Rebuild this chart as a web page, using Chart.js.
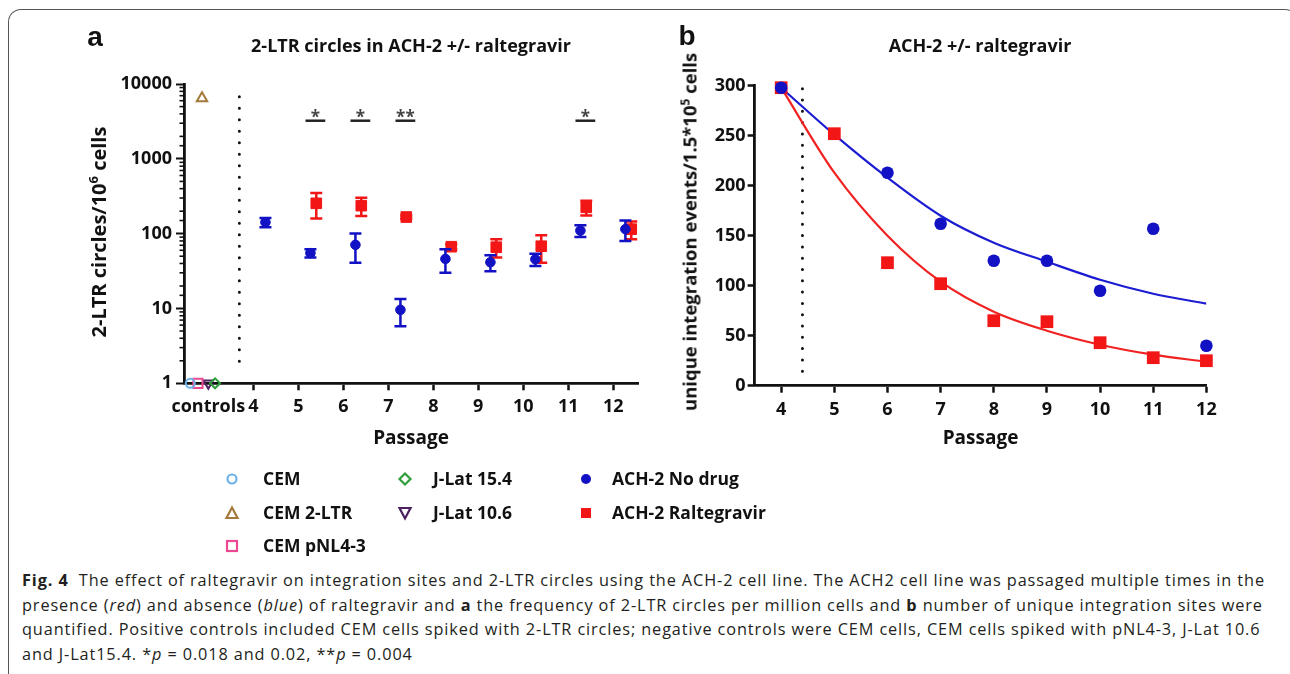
<!DOCTYPE html>
<html>
<head>
<meta charset="utf-8">
<script src="https://cdn.jsdelivr.net/npm/chart.js@4.4.1/dist/chart.umd.min.js"></script>
<style>
  html, body { margin: 0; padding: 0; background: #fff; }
  body { width: 1290px; height: 674px; position: relative; overflow: hidden; font-family: "Open Sans", Lato, sans-serif; color: #111; }
  #frame { position: absolute; left: 8px; top: 9px; width: 1290px; height: 720px; box-sizing: border-box;
           border-top: 1.5px solid #555; border-left: 1.5px solid #555; border-right: 1.5px solid #555; border-radius: 13px 13px 0 0; }
  canvas { position: absolute; top: 0; }
  #ca { left: 0; }
  #cb { left: 660px; }
  .lbl { position: absolute; font-family: "Liberation Sans", Arial, sans-serif; font-weight: bold; font-size: 28px; line-height: 1; transform: translate(-50%, -50%); }
  .ttl { position: absolute; font-weight: bold; font-size: 18px; white-space: nowrap; transform: translate(-50%, -50%); }
  .yt { position: absolute; font-weight: bold; font-size: 20px; white-space: nowrap; transform: translate(-50%, -50%) rotate(-90deg); }
  .yt sup { font-size: 13px; vertical-align: 8px; line-height: 0; }
  .yt.b { font-size: 18.5px; }
  .yt.b sup { font-size: 12px; vertical-align: 7px; }
  .leg { position: absolute; font-weight: bold; font-size: 17.5px; white-space: nowrap; transform: translateY(-50%); }
  .mk { position: absolute; width: 16px; height: 16px; transform: translate(-50%, -50%); }
  #cap { position: absolute; left: 22px; top: 568px; font-family: "Open Sans", sans-serif; font-size: 16.3px; line-height: 24.5px; color: #231f20; white-space: nowrap; }
  #cap div { white-space: nowrap; }
</style>
</head>
<body>
<div id="frame"></div>
<canvas id="ca" width="660" height="480" style="width:660px;height:480px"></canvas>
<canvas id="cb" width="630" height="480" style="width:630px;height:480px"></canvas>

<div class="lbl" style="left:95px;top:37px">a</div>
<div class="lbl" style="left:687px;top:36px">b</div>
<div class="ttl" style="left:411px;top:45px">2-LTR circles in ACH-2 +/- raltegravir</div>
<div class="ttl" style="left:980px;top:45px">ACH-2 +/- raltegravir</div>
<div class="yt" style="left:98px;top:232px">2-LTR circles/10<sup>6</sup> cells</div>
<div class="yt b" style="left:689px;top:232px">unique integration events/1.5*10<sup>5</sup> cells</div>

<div id="legend"></div>

<div id="cap">
  <div class="cl"><b>Fig. 4</b>&nbsp; The effect of raltegravir on integration sites and 2-LTR circles using the ACH-2 cell line. The ACH2 cell line was passaged multiple times in the</div>
  <div class="cl">presence (<i>red</i>) and absence (<i>blue</i>) of raltegravir and <b>a</b> the frequency of 2-LTR circles per million cells and <b>b</b> number of unique integration sites were</div>
  <div class="cl">quantified. Positive controls included CEM cells spiked with 2-LTR circles; negative controls were CEM cells, CEM cells spiked with pNL4-3, J-Lat 10.6</div>
  <div class="cl">and J-Lat15.4. *<i>p</i> = 0.018 and 0.02, **<i>p</i> = 0.004</div>
</div>

<script>
// ================= DATA =================
const passages = [4, 5, 6, 7, 8, 9, 10, 11, 12];
const xTickValuesA = [3, 4, 5, 6, 7, 8, 9, 10, 11, 12];
const xTickLabelsA = ['controls', '4', '5', '6', '7', '8', '9', '10', '11', '12'];
const yTickLabelsA = [1, 10, 100, 1000, 10000];
const yTickValuesB = [0, 50, 100, 150, 200, 250, 300];

// panel a: controls
const controlNames = ['CEM', 'CEM 2-LTR', 'CEM pNL4-3', 'J-Lat 15.4', 'J-Lat 10.6'];
const controlValues = [1, 6450, 1, 1, 1];

// panel a: 2-LTR circles / 10^6 cells (mean, SEM)
const seriesNames = ['ACH-2 No drug', 'ACH-2 Raltegravir'];
const circlesNoDrug = [142, 55, 71, 9.6, 46, 41.5, 45.5, 110, 115];
const circlesNoDrugSem = [20, 7, 30, 3.8, 16, 10, 8.5, 20, 35];
const ralPassages = [5, 6, 7, 8, 9, 10, 11, 12];
const circlesRal = [255, 237, 167, 67, 66, 68, 225, 115];
const circlesRalSem = [95, 65, 8, 5, 18, 27, 50, 31];

// significance marks
const sigPassages = [5, 6, 7, 11];
const sigLabels = ['*', '*', '**', '*'];
const sigLevel = 3240;

// panel b: unique integration events / 1.5*10^5 cells
const sitesNoDrug = [298, null, 213, 162, 125, 125, 95, 157, 40];
const sitesRal = [298, 252, 123, 102, 65, 64, 43, 28, 25];
// fitted decay curves
const fitNoDrug = [298, 251, 208, 170, 143, 124, 106, 92, 82];
const fitRal = [298, 213, 150, 104, 74, 55, 41, 31, 24];

// ================= STYLE =================
const FONT = '"Open Sans", Lato, sans-serif';
const BLUE = '#1212c4';
const RED = '#f21616';
const controlStyles = [
  { color: '#6cb2ea', style: 'circle', r: 4.5, rot: 0, dx: -0.40 },
  { color: '#a47a3a', style: 'triangle', r: 6, rot: 0, dx: -0.14 },
  { color: '#ee4a94', style: 'rect', r: 6.5, rot: 0, dx: -0.23 },
  { color: '#2e9e3a', style: 'rectRot', r: 5, rot: 0, dx: 0.15 },
  { color: '#4a2060', style: 'triangle', r: 5.5, rot: 180, dx: 0.0 }
];
const OFF_BLUE = 0.27, OFF_RED = 0.40;

const isDecade = v => Math.abs(Math.log10(v) - Math.round(Math.log10(v))) < 1e-9;

// ---- plugins ----
const errorBars = {
  id: 'errorBars',
  beforeDatasetDraw(chart, args) {
    const ds = chart.data.datasets[args.index];
    if (!ds.errorValues) return;
    const y = chart.scales.y, ctx = chart.ctx;
    ctx.save();
    ctx.strokeStyle = ds.borderColor; ctx.lineWidth = 2.5;
    args.meta.data.forEach((pt, i) => {
      const raw = ds.data[i]; const e = ds.errorValues[i];
      if (!raw || !e) return;
      const yt = y.getPixelForValue(raw.y + e), yb = y.getPixelForValue(Math.max(raw.y - e, 1e-3));
      ctx.beginPath();
      ctx.moveTo(pt.x, yt); ctx.lineTo(pt.x, yb);
      ctx.moveTo(pt.x - 6, yt); ctx.lineTo(pt.x + 6, yt);
      ctx.moveTo(pt.x - 6, yb); ctx.lineTo(pt.x + 6, yb);
      ctx.stroke();
    });
    ctx.restore();
  }
};

const minorTicks = {
  id: 'minorTicks',
  afterDraw(chart) {
    const s = chart.scales.y, ctx = chart.ctx;
    ctx.save(); ctx.strokeStyle = '#111'; ctx.lineWidth = 1.6;
    s.ticks.forEach(t => {
      if (isDecade(t.value)) return;
      const yy = s.getPixelForValue(t.value);
      ctx.beginPath(); ctx.moveTo(s.right - 4.5, yy); ctx.lineTo(s.right, yy); ctx.stroke();
    });
    ctx.restore();
  }
};

const sigMarks = {
  id: 'sigMarks',
  afterDatasetsDraw(chart) {
    const x = chart.scales.x, y = chart.scales.y, ctx = chart.ctx;
    ctx.save();
    ctx.strokeStyle = '#222'; ctx.fillStyle = '#444'; ctx.lineWidth = 2.5;
    ctx.font = 'bold 17px ' + FONT; ctx.textAlign = 'center'; ctx.textBaseline = 'alphabetic';
    const yy = y.getPixelForValue(sigLevel);
    sigPassages.forEach((p, i) => {
      const x0 = x.getPixelForValue(p + 0.16), x1 = x.getPixelForValue(p + 0.60);
      ctx.beginPath(); ctx.moveTo(x0, yy); ctx.lineTo(x1, yy); ctx.stroke();
      ctx.fillText(sigLabels[i], (x0 + x1) / 2, yy + 2);
    });
    ctx.restore();
  }
};

const tickFont = { family: FONT, size: 18, weight: 'bold' };
const axisTitle = (text) => ({ display: true, text, color: '#111', font: { family: FONT, size: 19, weight: 'bold' }, padding: { top: 0, bottom: 30.5 } });

// ================= PANEL A =================
const dsA = [];
dsA.push({
  label: seriesNames[0],
  data: passages.map((p, i) => ({ x: p + OFF_BLUE, y: circlesNoDrug[i] })),
  errorValues: circlesNoDrugSem,
  pointStyle: 'circle', pointRadius: 4.8, backgroundColor: BLUE, borderColor: BLUE, borderWidth: 1, clip: false
});
dsA.push({
  label: seriesNames[1],
  data: ralPassages.map((p, i) => ({ x: p + OFF_RED, y: circlesRal[i] })),
  errorValues: circlesRalSem,
  pointStyle: 'rect', pointRadius: 7.5, backgroundColor: RED, borderColor: RED, borderWidth: 1, clip: false
});
controlNames.forEach((name, i) => {
  const st = controlStyles[i];
  dsA.push({
    label: name, data: [{ x: 3 + st.dx, y: controlValues[i] }],
    pointStyle: st.style, pointRadius: st.r, rotation: st.rot,
    backgroundColor: 'rgba(255,255,255,0)', borderColor: st.color, borderWidth: 2, clip: false
  });
});
dsA.push({
  label: 'divider', data: [{ x: 3.69, y: 6800 }, { x: 3.69, y: 1.39 }],
  showLine: true, pointRadius: 0, borderColor: '#111', borderWidth: 3, borderDash: [0, 11.5], borderCapStyle: 'round'
});

new Chart(document.getElementById('ca'), {
  type: 'scatter',
  data: { datasets: dsA },
  options: {
    responsive: false, animation: false, devicePixelRatio: 1,
    layout: { padding: { left: 0, right: 22, top: 84.1, bottom: 0 } },
    plugins: { legend: { display: false }, tooltip: { enabled: false }, title: { display: false } },
    scales: {
      x: {
        type: 'linear', min: 2.46, max: 12.55,
        afterBuildTicks: s => { s.ticks = xTickValuesA.map(v => ({ value: v })); },
        afterFit: s => { s.height = 96.7; },
        ticks: { autoSkip: false, maxRotation: 0, padding: 6, color: '#111', font: tickFont,
                 callback: v => xTickLabelsA[xTickValuesA.indexOf(v)] },
        grid: { drawOnChartArea: false, tickLength: 7, tickWidth: 2.5,
                tickColor: c => (c.tick && c.tick.value === 3) ? 'rgba(0,0,0,0)' : '#111' },
        border: { display: true, color: '#111', width: 2.8 },
        title: axisTitle('Passage')
      },
      y: {
        type: 'logarithmic', min: 1, max: 10000,
        afterFit: s => { s.width = 184; },
        ticks: { autoSkip: false, padding: 4, color: '#111', font: tickFont,
                 callback: v => yTickLabelsA.includes(v) ? String(v) : '' },
        grid: { drawOnChartArea: false, tickLength: 8, tickWidth: 2,
                tickColor: c => (c.tick && isDecade(c.tick.value)) ? '#111' : 'rgba(0,0,0,0)' },
        border: { display: true, color: '#111', width: 2.8 }
      }
    }
  },
  plugins: [errorBars, minorTicks, sigMarks]
});

// ================= PANEL B =================
const dsB = [];
dsB.push({
  label: seriesNames[0],
  data: passages.map((p, i) => ({ x: p, y: sitesNoDrug[i] })).filter(d => d.y !== null),
  pointStyle: 'circle', pointRadius: 6.3, backgroundColor: BLUE, borderColor: BLUE, borderWidth: 0, clip: false
});
dsB.push({
  label: seriesNames[1],
  data: passages.map((p, i) => ({ x: p, y: sitesRal[i] })),
  pointStyle: 'rect', pointRadius: 9, backgroundColor: RED, borderColor: RED, borderWidth: 0, clip: false
});
dsB.push({
  label: 'fit no drug', data: passages.map((p, i) => ({ x: p, y: fitNoDrug[i] })),
  showLine: true, pointRadius: 0, borderColor: '#1c1cd2', borderWidth: 2.2, cubicInterpolationMode: 'monotone'
});
dsB.push({
  label: 'fit raltegravir', data: passages.map((p, i) => ({ x: p, y: fitRal[i] })),
  showLine: true, pointRadius: 0, borderColor: '#f02222', borderWidth: 2.2, cubicInterpolationMode: 'monotone'
});
dsB.push({
  label: 'divider', data: [{ x: 4.4, y: 297 }, { x: 4.4, y: 12 }],
  showLine: true, pointRadius: 0, borderColor: '#111', borderWidth: 3, borderDash: [0, 11.3], borderCapStyle: 'round'
});

new Chart(document.getElementById('cb'), {
  type: 'scatter',
  data: { datasets: dsB },
  options: {
    responsive: false, animation: false, devicePixelRatio: 1,
    layout: { padding: { left: 0, right: 83.6, top: 85.7, bottom: 0 } },
    plugins: { legend: { display: false }, tooltip: { enabled: false }, title: { display: false } },
    scales: {
      x: {
        type: 'linear', min: 3.5, max: 12,
        afterBuildTicks: s => { s.ticks = passages.map(v => ({ value: v })); },
        afterFit: s => { s.height = 94.3; },
        ticks: { autoSkip: false, maxRotation: 0, padding: 6, color: '#111', font: tickFont },
        grid: { drawOnChartArea: false, tickLength: 7, tickWidth: 2.5, tickColor: '#111' },
        border: { display: true, color: '#111', width: 2.8 },
        title: axisTitle('Passage')
      },
      y: {
        type: 'linear', min: 0, max: 300,
        afterBuildTicks: s => { s.ticks = yTickValuesB.map(v => ({ value: v })); },
        afterFit: s => { s.width = 94.6; },
        ticks: { autoSkip: false, padding: 2, color: '#111', font: tickFont },
        grid: { drawOnChartArea: false, tickLength: 7, tickWidth: 2.5, tickColor: '#111' },
        border: { display: true, color: '#111', width: 2.8 }
      }
    }
  }
});

// ================= LEGEND (HTML) =================
const legendItems = [
  { name: controlNames[0], col: 0, row: 0, svg: '<circle cx="8" cy="8" r="4.5" fill="none" stroke="#6cb2ea" stroke-width="2.2"/>' },
  { name: controlNames[1], col: 0, row: 1, svg: '<polygon points="8,2.5 13.5,13 2.5,13" fill="none" stroke="#a47a3a" stroke-width="2.2"/>' },
  { name: controlNames[2], col: 0, row: 2, svg: '<rect x="3" y="3" width="10" height="10" fill="none" stroke="#ee4a94" stroke-width="2.2"/>' },
  { name: controlNames[3], col: 1, row: 0, svg: '<polygon points="8,2.5 13.5,8 8,13.5 2.5,8" fill="none" stroke="#2e9e3a" stroke-width="2.2"/>' },
  { name: controlNames[4], col: 1, row: 1, svg: '<polygon points="2.5,3 13.5,3 8,13.5" fill="none" stroke="#4a2060" stroke-width="2.2"/>' },
  { name: seriesNames[0], col: 2, row: 0, svg: '<circle cx="8" cy="8" r="5" fill="' + BLUE + '"/>' },
  { name: seriesNames[1], col: 2, row: 1, svg: '<rect x="3" y="3" width="10" height="10" fill="' + RED + '"/>' }
];
const legMarkerX = [232, 405, 586], legTextX = [263, 433, 612], legRowY = [478, 512, 545];
const legEl = document.getElementById('legend');
legendItems.forEach(it => {
  const m = document.createElement('div');
  m.className = 'mk'; m.style.left = legMarkerX[it.col] + 'px'; m.style.top = legRowY[it.row] + 'px';
  m.innerHTML = '<svg width="16" height="16" viewBox="0 0 16 16">' + it.svg + '</svg>';
  legEl.appendChild(m);
  const t = document.createElement('div');
  t.className = 'leg'; t.style.left = legTextX[it.col] + 'px'; t.style.top = legRowY[it.row] + 'px';
  t.textContent = it.name;
  legEl.appendChild(t);
});

// fit caption spacing so line 1 spans like the reference
(function () {
  const lines = document.querySelectorAll('#cap .cl');
  const first = lines[0];
  const span = document.createElement('span');
  span.innerHTML = first.innerHTML; span.style.whiteSpace = 'nowrap';
  first.innerHTML = ''; first.appendChild(span);
  const w = span.getBoundingClientRect().width;
  const chars = span.textContent.length;
  const ls = (1243 - w) / chars;
  document.getElementById('cap').style.letterSpacing = ls.toFixed(3) + 'px';
})();
</script>
</body>
</html>
